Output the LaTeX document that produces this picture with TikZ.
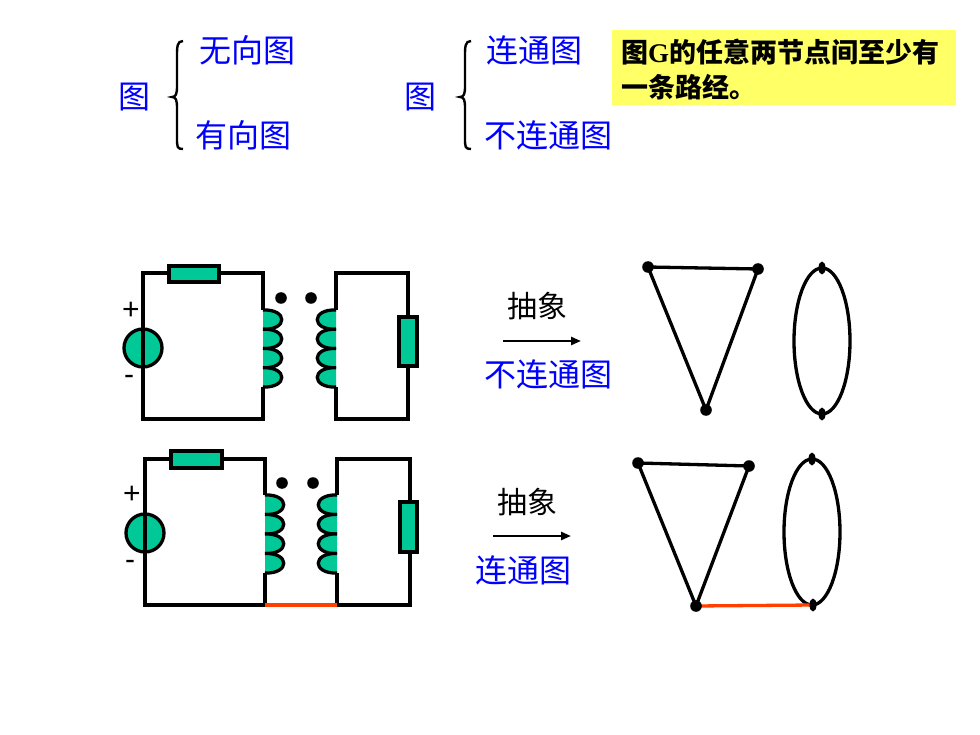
\documentclass[tikz,border=0pt]{standalone}
\usepackage{fontspec}
\setmainfont{Liberation Serif}
\newfontfamily\cjk{Noto Sans CJK SC}
\newfontfamily\arialf{Liberation Sans}
\usetikzlibrary{arrows.meta}
\definecolor{coil}{RGB}{0,200,150}
\definecolor{tblue}{RGB}{0,0,255}
\definecolor{redl}{RGB}{255,64,0}
\definecolor{ybox}{RGB}{255,255,102}
\tikzset{
  wire/.style={line width=3.3pt, line join=miter},
  comp/.style={line width=3.3pt, fill=coil},
  btext/.style={text=tblue, font=\cjk\fontsize{32}{36}\selectfont, inner sep=0pt},
  ktext/.style={text=black, font=\cjk\fontsize{30}{34}\selectfont, inner sep=0pt},
  boxtext/.style={text=black, font=\cjk\bfseries\fontsize{27}{30}\selectfont, inner sep=0pt, anchor=west},
  sign/.style={font=\arialf\fontsize{30}{32}\selectfont, inner sep=0pt},
  brace/.style={line width=2.4pt},
  edge/.style={line width=3.3pt},
  abs/.style={line width=2.6pt, -{Triangle[length=10pt,width=8pt]}},
}
\newcommand{\coilR}[3]{% x0, ytop, ybottom ; lobes to the right
  \foreach \i in {0,1,2,3}{
    \pgfmathsetmacro{\ya}{#2+\i*(#3-#2)/4}
    \pgfmathsetmacro{\yb}{#2+(\i+1)*(#3-#2)/4}
    \filldraw[line width=3.3pt, fill=coil] (#1,\ya) .. controls (#1+25,\ya-1) and (#1+25,\yb+1) .. (#1,\yb);
  }}
\newcommand{\coilL}[3]{% lobes to the left
  \foreach \i in {0,1,2,3}{
    \pgfmathsetmacro{\ya}{#2+\i*(#3-#2)/4}
    \pgfmathsetmacro{\yb}{#2+(\i+1)*(#3-#2)/4}
    \filldraw[line width=3.3pt, fill=coil] (#1,\ya) .. controls (#1-25,\ya-1) and (#1-25,\yb+1) .. (#1,\yb);
  }}
\begin{document}
\begin{tikzpicture}[x=1pt,y=-1pt]
\useasboundingbox (0,0) rectangle (980,735);
\fill[white] (0,0) rectangle (980,735);

% ---------- top classification ----------
\node[btext] (g1) at (134,97) {图};
\node[btext] (wx) at (247,50) {无向图};
\node[btext] (yx) at (243,135) {有向图};
\draw[brace] (183,41) .. controls (177,41) and (177,47) .. (177,56) -- (177,86)
  .. controls (177,94) and (176,97) .. (172,97)
  .. controls (176,97) and (177,100) .. (177,108) -- (177,138)
  .. controls (177,147) and (177,149) .. (183,149);
\node[btext] (g2) at (420,97) {图};
\node[btext] (lt) at (534,50) {连通图};
\node[btext] (blt) at (548,135) {不连通图};
\draw[brace] (471,41) .. controls (465,41) and (465,47) .. (465,56) -- (465,86)
  .. controls (465,94) and (464,97) .. (460,97)
  .. controls (464,97) and (465,100) .. (465,108) -- (465,138)
  .. controls (465,147) and (465,149) .. (471,149);
\fill[ybox] (612,30) rectangle (956,105);
\node[boxtext] (bx1) at (621,52) {图{\rmfamily\bfseries G}的任意两节点间至少有};
\node[boxtext] (bx2) at (621,87) {一条路经。};

% ---------- circuit 1 ----------
\filldraw[comp] (143,348) circle (19);
\draw[wire] (263,310) -- (263,273) -- (143,273) -- (143,419) -- (263,419) -- (263,387);
\draw[wire] (336,310) -- (336,273) -- (408,273) -- (408,419) -- (336,419) -- (336,387);
\filldraw[comp] (169,266) rectangle (219,282);
\filldraw[comp] (399,317) rectangle (417,366);
\coilR{263}{310}{387}
\coilL{336}{310}{387}
\fill (281,298) circle (5.8);
\fill (311,298) circle (5.8);
\node[sign] (p1) at (131,311) {+};
\node[sign] (m1) at (129,380) {-};

% ---------- circuit 2 ----------
\filldraw[comp] (145,533) circle (19);
\draw[wire] (265,495) -- (265,459) -- (145,459) -- (145,605) -- (265,605) -- (265,573);
\draw[wire] (337,495) -- (337,459) -- (410,459) -- (410,605) -- (337,605) -- (337,573);
\draw[line width=3.3pt, redl] (265,605) -- (337,605);
\filldraw[comp] (171,451) rectangle (222,468);
\filldraw[comp] (400,502) rectangle (417,552);
\coilR{265}{495}{573}
\coilL{337}{495}{573}
\fill (282,483) circle (5.8);
\fill (313,483) circle (5.8);
\node[sign] (p2) at (132,495) {+};
\node[sign] (m2) at (130,565) {-};

% ---------- abstraction labels ----------
\node[ktext] (cx1) at (537,306) {抽象};
\coordinate (a1s) at (503,341);
\coordinate (a1e) at (581,341);
\draw[abs] (a1s) -- (a1e);
\node[btext] (l1) at (548,374) {不连通图};
\node[ktext] (cx2) at (527,502) {抽象};
\coordinate (a2s) at (493,536);
\coordinate (a2e) at (571,536);
\draw[abs] (a2s) -- (a2e);
\node[btext] (l2) at (523,570) {连通图};

% ---------- graph 1 ----------
\coordinate (t1a) at (648,267);
\coordinate (t1b) at (758,269);
\coordinate (t1c) at (706,410);
\draw[edge, line join=round] (t1a) -- (t1b) -- (t1c) -- cycle;
\foreach \v in {t1a,t1b,t1c} \fill (\v) circle (5.8);
\draw[edge] (822,341) ellipse (28 and 73);
\coordinate (e1t) at (822,268);
\coordinate (e1b) at (822,414);
\fill (e1t) ellipse (3.5 and 6.5);
\fill (e1b) ellipse (3.5 and 6.5);

% ---------- graph 2 ----------
\coordinate (t2a) at (638,463);
\coordinate (t2b) at (749,466);
\coordinate (t2c) at (696,606);
\draw[edge, line join=round] (t2a) -- (t2b) -- (t2c) -- cycle;
\coordinate (e2t) at (812,459);
\coordinate (e2b) at (813,605);
\draw[edge] (812,532) ellipse (28 and 73);
\draw[line width=3.3pt, redl] (t2c) -- (e2b);
\foreach \v in {t2a,t2b,t2c} \fill (\v) circle (5.8);
\fill (e2t) ellipse (3.5 and 6.5);
\fill (e2b) ellipse (3.5 and 6.5);
\end{tikzpicture}
\end{document}
